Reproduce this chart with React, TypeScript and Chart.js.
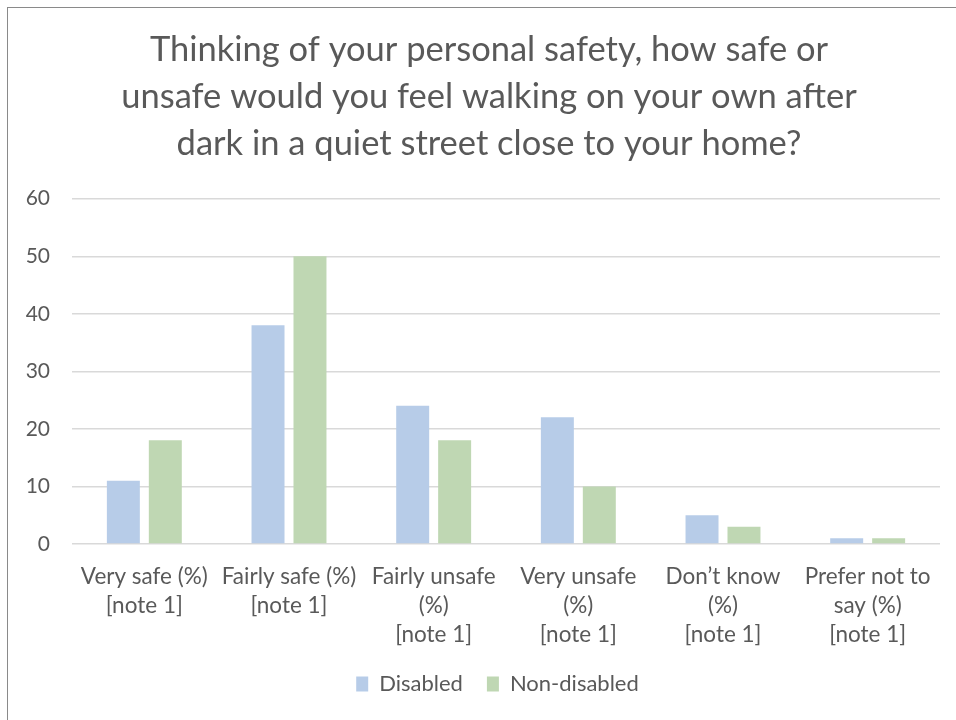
import React, { useEffect, useRef } from "react";
import { Chart, registerables } from "chart.js";

Chart.register(...registerables);

const categories: string[][] = [
  ["Very safe (%)", "[note 1]"],
  ["Fairly safe (%)", "[note 1]"],
  ["Fairly unsafe", "(%)", "[note 1]"],
  ["Very unsafe", "(%)", "[note 1]"],
  ["Don\u2019t know", "(%)", "[note 1]"],
  ["Prefer not to", "say (%)", "[note 1]"],
];
const disabled = [11, 38, 24, 22, 5, 1];
const nonDisabled = [18, 50, 18, 10, 3, 1];
const titleLines = [
  "Thinking of your personal safety, how safe or",
  "unsafe would you feel walking on your own after",
  "dark in a quiet street close to your home?",
];

const FONT = "Lato, 'Open Sans', sans-serif";
const TEXT = "#595959";

const shiftBoxes = {
  id: "shiftBoxes",
  afterLayout(chart: any) {
    const t = chart.titleBlock;
    if (t) {
      t.left += 6.5;
      t.right += 6.5;
    }
    const l = chart.legend;
    if (l) {
      l.left += 15;
      l.right += 15;
    }
  },
};

export default function App() {
  const ref = useRef<HTMLCanvasElement>(null);
  useEffect(() => {
    if (!ref.current) return;
    const chart = new Chart(ref.current, {
      type: "bar",
      data: {
        labels: categories,
        datasets: [
          {
            label: "Disabled",
            data: disabled,
            backgroundColor: "#b7cce8",
            categoryPercentage: 0.58,
            barPercentage: 0.786,
          },
          {
            label: "Non-disabled",
            data: nonDisabled,
            backgroundColor: "#bfd7b3",
            categoryPercentage: 0.58,
            barPercentage: 0.786,
          },
        ],
      },
      options: {
        animation: false,
        responsive: false,
        maintainAspectRatio: false,
        layout: { padding: { left: 17, right: 32, bottom: 21, top: 0 } },
        plugins: {
          title: {
            display: true,
            text: titleLines,
            color: TEXT,
            font: { family: FONT, size: 34.5, weight: "normal", lineHeight: 1.35 },
            padding: { top: 19, bottom: 32 },
          },
          legend: {
            position: "bottom",
            labels: {
              color: TEXT,
              font: { family: FONT, size: 22 },
              boxWidth: 12,
              boxHeight: 15,
              padding: 24,
            },
          },
          tooltip: { enabled: false },
        },
        scales: {
          x: {
            grid: { display: false, drawTicks: true, tickLength: 18 },
            border: { display: false },
            afterFit: (scale: any) => {
              scale.paddingLeft = 0;
              scale.paddingRight = 0;
            },
            ticks: {
              color: TEXT,
              font: { family: FONT, size: 22.5, lineHeight: 1.29 },
              maxRotation: 0,
              autoSkip: false,
              padding: 0,
            },
          },
          y: {
            min: 0,
            max: 60,
            grid: { color: "#d9d9d9", lineWidth: 1.5, drawTicks: false },
            border: { display: false },
            afterFit: (scale: any) => {
              scale.width = 47;
              scale.paddingLeft = 0;
              scale.paddingRight = 0;
            },
            ticks: {
              stepSize: 10,
              color: TEXT,
              font: { family: FONT, size: 21 },
              padding: 22,
            },
          },
        },
      },
      plugins: [shiftBoxes],
    });
    return () => chart.destroy();
  }, []);
  return (
    <div
      style={{
        position: "fixed",
        left: 0,
        top: 0,
        width: 956,
        height: 720,
        overflow: "hidden",
        background: "#fff",
      }}
    >
      <div
        style={{
          position: "absolute",
          left: 7,
          top: 7,
          width: 964,
          height: 718,
          border: "1px solid #8a8a8a",
          background: "#fff",
        }}
      >
        <canvas ref={ref} width={964} height={718} style={{ display: "block" }} />
      </div>
    </div>
  );
}
